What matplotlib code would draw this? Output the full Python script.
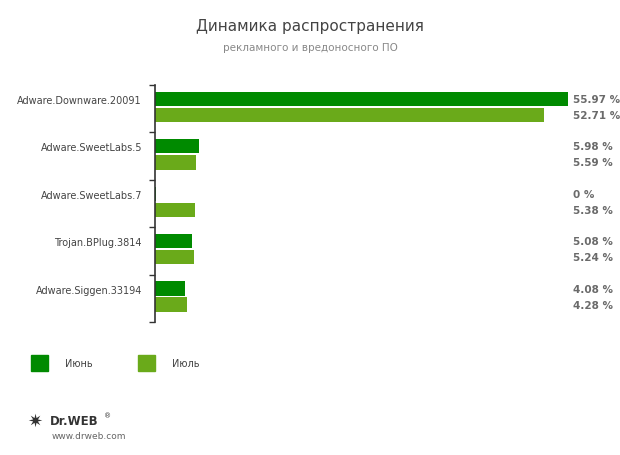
import numpy as np
import matplotlib.pyplot as plt

# данные
categories = ['Adware.Downware.20091', 'Adware.SweetLabs.5', 'Adware.SweetLabs.7',
              'Trojan.BPlug.3814', 'Adware.Siggen.33194']
june = [55.97, 5.98, 0.0, 5.08, 4.08]
july = [52.71, 5.59, 5.38, 5.24, 4.28]
june_labels = ['55.97 %', '5.98 %', '0 %', '5.08 %', '4.08 %']
july_labels = ['52.71 %', '5.59 %', '5.38 %', '5.24 %', '4.28 %']
series_names = ['Июнь', 'Июль']

c_june = '#008a00'
c_july = '#6aaa1a'

W, H = 620, 456
fig = plt.figure(figsize=(W / 100, H / 100), dpi=100)

# оси в пикселях: x 155..568, y 86..323
ax = fig.add_axes([155 / W, 1 - 323 / H, (568 - 155) / W, (323 - 86) / H])
ax.set_xlim(0, max(june))
ax.set_ylim(len(categories), 0)

idx = np.arange(len(categories))
bh = 0.3
ax.barh(idx + 0.295, june, height=bh, color=c_june, align='center')
ax.barh(idx + 0.633, july, height=bh, color=c_july, align='center')
# нулевое значение — тонкая черта
ax.barh(idx[np.array(june) == 0] + 0.295, 0.1, height=bh, color=c_june)

for s in ['top', 'right', 'bottom']:
    ax.spines[s].set_visible(False)
ax.spines['left'].set_color('#333333')
ax.spines['left'].set_linewidth(1.2)
ax.set_xticks([])
ax.set_yticks(np.arange(len(categories) + 1))
ax.set_yticklabels([])
ax.tick_params(axis='y', length=4, width=1, color='#333333')

for i, name in enumerate(categories):
    fig.text(142 / W, 1 - (101 + i * 47.4) / H, name, ha='right', va='center',
             fontsize=7, color='#444444')
    fig.text(573 / W, 1 - (100 + i * 47.4) / H, june_labels[i], ha='left', va='center',
             fontsize=7.5, color='#6a6a6a', fontweight='bold')
    fig.text(573 / W, 1 - (116 + i * 47.4) / H, july_labels[i], ha='left', va='center',
             fontsize=7.5, color='#6a6a6a', fontweight='bold')

# заголовок
fig.text(310 / W, 1 - 27 / H, 'Динамика распространения', ha='center', va='center',
         fontsize=11, color='#444444')
fig.text(310 / W, 1 - 48 / H, 'рекламного и вредоносного ПО', ha='center', va='center',
         fontsize=7.5, color='#888888')

# легенда
for x0, col, name in [(31, c_june, series_names[0]), (138, c_july, series_names[1])]:
    fig.patches.append(plt.Rectangle((x0 / W, 1 - 372 / H), 17 / W, 16 / H,
                                     transform=fig.transFigure, color=col))
    fig.text((x0 + 34) / W, 1 - 364 / H, name, ha='left', va='center',
             fontsize=7, color='#444444')

# логотип
fig.text(27 / W, 1 - 422 / H, '\u2737', ha='left', va='center', fontsize=13, color='#333333')
fig.text(50 / W, 1 - 422 / H, 'Dr.WEB', ha='left', va='center', fontsize=8.5,
         color='#333333', fontweight='bold')
fig.text(104 / W, 1 - 416 / H, '\u00ae', ha='left', va='center', fontsize=5, color='#333333')
fig.text(52 / W, 1 - 437 / H, 'www.drweb.com', ha='left', va='center', fontsize=6.5,
         color='#666666')

fig.savefig('out.png', dpi=100)
